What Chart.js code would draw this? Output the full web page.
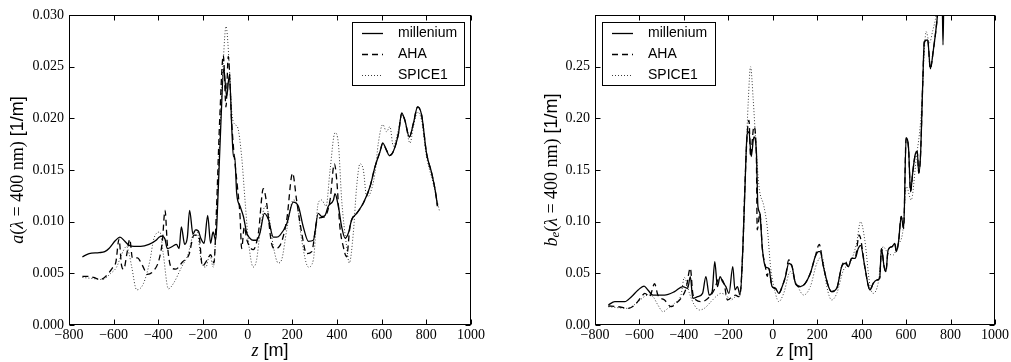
<!DOCTYPE html>
<html>
<head>
<meta charset="utf-8">
<script src="https://cdn.jsdelivr.net/npm/chart.js@4.4.1/dist/chart.umd.min.js"></script>
<style>
  html, body { margin: 0; padding: 0; background: #fff; }
  #wrap { position: relative; width: 1011px; height: 362px; }
  canvas { position: absolute; top: 0; }
</style>
</head>
<body>
<div id="wrap">
  <canvas id="absChart" width="505" height="362" style="left:0"></canvas>
  <canvas id="scatChart" width="506" height="362" style="left:505px"></canvas>
</div>
<script>
// ---- data ----
const seriesNames = ['millenium', 'AHA', 'SPICE1'];

// left panel: absorption a(400 nm)
const zMillA = [-740,-710,-665,-640,-621,-591,-572,-550,-530,-509,-479,-442,-410,-397,-382,-370,-360,-337,-319,-307,-297,-282,-270,-260,-245,-233,-221,-210,-195,-179,-166,-155,-143,-133,-120,-107,-94,-82,-70,-64,-58,-49,-34,-19,-4,10,25,40,55,75,93,115,130,145,175,204,227,249,272,294,316,331,346,361,384,391,406,421,436,451,466,488,518,548,570,593,605,622,634,652,675,690,704,724,742,761,779,801,824,840,850];
const aMill = [0.0066,0.0069,0.0070,0.0071,0.0074,0.0082,0.0085,0.0081,0.0077,0.0076,0.0076,0.0078,0.0082,0.0085,0.0086,0.0083,0.0074,0.0076,0.0078,0.0074,0.0095,0.0078,0.0085,0.0111,0.0088,0.0092,0.0091,0.0084,0.0079,0.0106,0.0079,0.0090,0.0082,0.0124,0.0195,0.0248,0.0221,0.0242,0.0185,0.0163,0.0163,0.0127,0.0115,0.0105,0.0089,0.0084,0.0082,0.0082,0.0089,0.0108,0.0102,0.0085,0.0085,0.0087,0.0098,0.0119,0.0115,0.0095,0.0081,0.0082,0.0108,0.0105,0.0106,0.0115,0.0121,0.0127,0.0115,0.0095,0.0084,0.0089,0.0102,0.0108,0.0118,0.0134,0.0153,0.0168,0.0176,0.0169,0.0164,0.0168,0.0185,0.0205,0.0198,0.0182,0.0195,0.0211,0.0203,0.0166,0.0147,0.0130,0.0115];

const zAhaA = [-740,-710,-690,-660,-636,-606,-590,-576,-565,-555,-540,-528,-516,-494,-472,-449,-419,-397,-382,-370,-360,-345,-322,-292,-263,-240,-218,-203,-181,-166,-151,-140,-125,-109,-97,-87,-72,-64,-46,-34,-27,-15,-3,25,48,70,85,107,122,145,175,201,219,242,264,287,309,330,346,369,388,399,413,428,443,458,473,488,518,548,570,593,605,622,634,652,675,690,704,724,742,761,779,801,824,840,850];
const aAha = [0.0047,0.0047,0.0046,0.0044,0.0047,0.0055,0.0061,0.0083,0.0058,0.0054,0.0070,0.0083,0.0065,0.0065,0.0058,0.0049,0.0053,0.0063,0.0081,0.0111,0.0079,0.0057,0.0054,0.0061,0.0068,0.0087,0.0086,0.0057,0.0063,0.0068,0.0060,0.0110,0.0200,0.0261,0.0211,0.0260,0.0198,0.0173,0.0134,0.0105,0.0074,0.0095,0.0082,0.0073,0.0089,0.0132,0.0118,0.0079,0.0074,0.0077,0.0102,0.0147,0.0121,0.0089,0.0069,0.0071,0.0100,0.0104,0.0105,0.0121,0.0156,0.0140,0.0095,0.0076,0.0066,0.0095,0.0105,0.0108,0.0118,0.0134,0.0153,0.0168,0.0176,0.0169,0.0164,0.0168,0.0185,0.0205,0.0198,0.0182,0.0195,0.0211,0.0203,0.0166,0.0147,0.0130,0.0115];

const zSpiceA = [-740,-695,-651,-613,-587,-565,-542,-530,-519,-497,-467,-437,-422,-407,-393,-378,-355,-333,-296,-266,-243,-228,-206,-187,-170,-154,-139,-124,-109,-97,-82,-72,-57,-46,-27,-12,3,25,40,55,78,93,115,137,152,175,204,220,242,272,294,316,331,351,369,391,406,421,443,455,473,488,503,518,533,548,570,585,605,622,637,652,675,690,704,727,742,761,779,801,831,858];
const aSpice = [0.0046,0.0045,0.0044,0.0050,0.0056,0.0068,0.0076,0.0068,0.0056,0.0034,0.0040,0.0063,0.0082,0.0089,0.0090,0.0069,0.0035,0.0040,0.0056,0.0069,0.0089,0.0092,0.0060,0.0056,0.0068,0.0056,0.0105,0.0186,0.0256,0.0289,0.0250,0.0208,0.0194,0.0192,0.0163,0.0121,0.0082,0.0056,0.0063,0.0089,0.0115,0.0108,0.0076,0.0060,0.0063,0.0092,0.0121,0.0117,0.0082,0.0056,0.0063,0.0118,0.0121,0.0115,0.0150,0.0186,0.0176,0.0121,0.0076,0.0060,0.0089,0.0134,0.0156,0.0150,0.0124,0.0127,0.0147,0.0176,0.0194,0.0187,0.0192,0.0173,0.0189,0.0203,0.0198,0.0176,0.0192,0.0206,0.0198,0.0163,0.0137,0.0111];

// right panel: scattering b_e(400 nm)
const zMillB = [-740,-711,-666,-636,-606,-579,-562,-539,-487,-442,-405,-383,-371,-360,-338,-316,-301,-286,-273,-261,-249,-237,-226,-211,-197,-180,-170,-159,-147,-135,-127,-115,-107,-97,-85,-74,-67,-58,-47,-33,-18,-3,12,27,42,57,72,87,102,124,146,169,191,206,213,228,251,265,288,310,325,340,355,370,385,395,414,429,437,452,467,481,489,501,509,519,537,549,556,566,578,589,600,611,620,630,641,650,657,665,675,682,697,709,722,739,749,762,766,770,780];
const bMill = [0.0194,0.0226,0.0226,0.0274,0.0339,0.0377,0.0339,0.0290,0.0290,0.0323,0.0371,0.0355,0.0468,0.0258,0.0274,0.0306,0.0468,0.0290,0.0320,0.0613,0.0371,0.0468,0.0419,0.0371,0.0306,0.0565,0.0339,0.0371,0.0290,0.0726,0.1210,0.1850,0.1870,0.1630,0.1820,0.1690,0.1150,0.1080,0.0742,0.0565,0.0548,0.0371,0.0355,0.0306,0.0371,0.0468,0.0597,0.0565,0.0403,0.0371,0.0403,0.0500,0.0661,0.0710,0.0710,0.0565,0.0371,0.0323,0.0355,0.0565,0.0597,0.0565,0.0645,0.0645,0.0742,0.0770,0.0565,0.0387,0.0339,0.0403,0.0435,0.0452,0.0740,0.0565,0.0516,0.0726,0.0758,0.0790,0.0710,0.0806,0.1050,0.0935,0.1810,0.1710,0.1290,0.1480,0.1650,0.1680,0.1470,0.1650,0.2350,0.2740,0.2760,0.2480,0.2650,0.2950,0.3200,0.3200,0.2710,0.3200,0.3400];

const zAhaB = [-740,-696,-651,-621,-591,-576,-554,-532,-517,-487,-457,-435,-413,-390,-371,-360,-345,-323,-301,-278,-264,-241,-219,-204,-182,-167,-156,-147,-135,-127,-115,-107,-100,-85,-74,-70,-58,-47,-33,-25,-18,-3,12,27,42,57,72,87,102,124,146,169,191,209,228,251,265,288,310,325,340,355,370,389,414,429,437,452,467,481,489,501,509,519,537,549,556,566,578,589,600,611,620,630,641,650,657,665,675,682,697,709,722,739,749];
const bAha = [0.0184,0.0177,0.0161,0.0194,0.0274,0.0306,0.0274,0.0400,0.0290,0.0242,0.0177,0.0210,0.0258,0.0355,0.0550,0.0306,0.0242,0.0226,0.0242,0.0290,0.0339,0.0450,0.0400,0.0242,0.0274,0.0290,0.0274,0.0300,0.0726,0.1250,0.1850,0.1980,0.1630,0.1920,0.1650,0.0920,0.1080,0.0742,0.0560,0.0470,0.0548,0.0371,0.0355,0.0306,0.0371,0.0468,0.0630,0.0565,0.0403,0.0371,0.0403,0.0500,0.0661,0.0780,0.0565,0.0371,0.0323,0.0355,0.0565,0.0620,0.0565,0.0645,0.0645,0.0870,0.0565,0.0387,0.0339,0.0403,0.0435,0.0452,0.0740,0.0565,0.0516,0.0726,0.0758,0.0790,0.0710,0.0806,0.1050,0.0935,0.1810,0.1710,0.1290,0.1480,0.1650,0.1680,0.1470,0.1650,0.2350,0.2740,0.2760,0.2480,0.2650,0.2950,0.3200];

const zSpiceB = [-740,-651,-606,-561,-539,-517,-494,-472,-442,-413,-398,-375,-353,-331,-308,-278,-256,-234,-211,-189,-167,-144,-133,-122,-110,-100,-88,-77,-62,-40,-25,-10,12,27,49,79,109,139,169,198,221,243,265,288,318,347,377,395,414,437,452,474,496,519,541,563,586,601,623,645,668,683,690,705,720,735,750];
const bSpice = [0.0177,0.0161,0.0226,0.0290,0.0274,0.0194,0.0129,0.0161,0.0210,0.0290,0.0460,0.0306,0.0194,0.0145,0.0161,0.0226,0.0274,0.0306,0.0290,0.0242,0.0274,0.0339,0.0800,0.1530,0.2180,0.2500,0.2180,0.1790,0.1340,0.1150,0.0950,0.0565,0.0306,0.0226,0.0306,0.0516,0.0387,0.0290,0.0371,0.0597,0.0661,0.0371,0.0242,0.0306,0.0532,0.0597,0.0790,0.1000,0.0823,0.0387,0.0306,0.0403,0.0758,0.0694,0.0677,0.0774,0.0919,0.1340,0.1210,0.1600,0.2050,0.2690,0.2840,0.2730,0.2850,0.3000,0.3300];

// ---- helpers ----
const SERIF = '"Liberation Serif", "DejaVu Serif", serif';
const SANS = '"Liberation Sans", Arial, sans-serif';

function pts(zs, vs) {
    return zs.map((z, i) => ({ x: z, y: vs[i] }));
}

function lineSet(label, data, style) {
    const base = {
        label: label,
        data: data,
        borderColor: '#000',
        borderWidth: 1.3,
        pointRadius: 0,
        fill: false,
        cubicInterpolationMode: 'monotone'
    };
    if (style === 'dash') base.borderDash = [6, 4];
    if (style === 'dot') { base.borderDash = [1, 2]; base.borderColor = '#3a3a3a'; base.borderWidth = 1; }
    return base;
}

function minusLabel(v) {
    return v < 0 ? '\u2212' + Math.abs(v) : String(v);
}

// draws a run of differently styled text pieces centred on (cx, cy)
function drawRich(ctx, segs, cx, cy, rotate) {
    ctx.save();
    ctx.translate(cx, cy);
    if (rotate) ctx.rotate(-Math.PI / 2);
    ctx.textBaseline = 'middle';
    ctx.textAlign = 'left';
    ctx.fillStyle = '#000';
    let total = 0;
    segs.forEach(s => { ctx.font = s.f; s.w = ctx.measureText(s.t).width; total += s.w; });
    let x = -total / 2;
    segs.forEach(s => {
        ctx.font = s.f;
        ctx.fillText(s.t, x, s.dy || 0);
        x += s.w;
    });
    ctx.restore();
}

// frame, inward ticks on all four sides, boxed legend, axis titles
const decor = {
    id: 'decor',
    afterDraw(chart, args, opts) {
        const { ctx, chartArea: a, scales: { x, y } } = chart;
        const L = Math.round(a.left) + 0.5, R = Math.round(a.right) - 0.5;
        const T = Math.round(a.top) + 0.5, B = Math.round(a.bottom) - 0.5;
        ctx.save();
        ctx.strokeStyle = '#000';
        ctx.lineWidth = 1;
        ctx.setLineDash([]);
        ctx.strokeRect(L, T, R - L, B - T);
        ctx.beginPath();
        x.ticks.forEach(t => {
            const px = Math.round(x.getPixelForValue(t.value)) + 0.5;
            ctx.moveTo(px, B); ctx.lineTo(px, B - 5);
            ctx.moveTo(px, T); ctx.lineTo(px, T + 5);
        });
        y.ticks.forEach(t => {
            const py = Math.round(y.getPixelForValue(t.value)) + 0.5;
            ctx.moveTo(L, py); ctx.lineTo(L + 5, py);
            ctx.moveTo(R, py); ctx.lineTo(R - 5, py);
        });
        ctx.stroke();

        // legend
        const lg = opts.legend;
        ctx.fillStyle = '#fff';
        ctx.fillRect(lg.x + 0.5, lg.y + 0.5, lg.w, lg.h);
        ctx.strokeRect(lg.x + 0.5, lg.y + 0.5, lg.w, lg.h);
        ctx.font = '14px ' + SANS;
        ctx.textBaseline = 'middle';
        chart.data.datasets.forEach((ds, i) => {
            const ry = lg.y + 11 + i * 21 + 0.5;
            ctx.strokeStyle = ds.borderColor;
            ctx.lineWidth = ds.borderWidth;
            ctx.setLineDash(ds.borderDash || []);
            ctx.beginPath();
            ctx.moveTo(lg.x + lg.lineX0, ry);
            ctx.lineTo(lg.x + lg.lineX1, ry);
            ctx.stroke();
            ctx.fillStyle = '#000';
            ctx.fillText(ds.label, lg.x + lg.textX, ry);
        });
        ctx.restore();

        const cx = (a.left + a.right) / 2;
        drawRich(ctx, [
            { t: 'z', f: 'italic 18px ' + SERIF },
            { t: ' [m]', f: '18px ' + SANS }
        ], cx, 351, false);
        drawRich(ctx, opts.yTitle, opts.yTitleX, (a.top + a.bottom) / 2, true);
    }
};

function makeOptions(cfg) {
    return {
        responsive: false,
        animation: false,
        layout: { padding: { top: 15, right: cfg.padRight, left: 0, bottom: 0 } },
        plugins: {
            legend: { display: false },
            tooltip: { enabled: false },
            decor: { legend: cfg.legend, yTitle: cfg.yTitle, yTitleX: cfg.yTitleX }
        },
        scales: {
            x: {
                type: 'linear',
                min: -800,
                max: 1000,
                grid: { display: false, drawTicks: false },
                border: { display: false },
                ticks: {
                    stepSize: 200,
                    autoSkip: false,
                    maxRotation: 0,
                    padding: 2,
                    color: '#000',
                    font: { family: SERIF, size: 14 },
                    callback: minusLabel
                },
                afterFit(scale) { scale.height = 37; }
            },
            y: {
                min: 0,
                max: cfg.yMax,
                grid: { display: false, drawTicks: false },
                border: { display: false },
                ticks: {
                    stepSize: cfg.yStep,
                    padding: 5,
                    color: '#000',
                    font: { family: SERIF, size: 14 },
                    callback(v) {
                        if (cfg.hideTop && v > cfg.yMax - 1e-9) return '';
                        return v.toFixed(cfg.dec);
                    }
                },
                afterFit(scale) { scale.width = cfg.axisWidth; }
            }
        }
    };
}

new Chart(document.getElementById('absChart'), {
    type: 'line',
    data: {
        datasets: [
            lineSet(seriesNames[0], pts(zMillA, aMill), 'solid'),
            lineSet(seriesNames[1], pts(zAhaA, aAha), 'dash'),
            lineSet(seriesNames[2], pts(zSpiceA, aSpice), 'dot')
        ]
    },
    options: makeOptions({
        yMax: 0.03, yStep: 0.005, dec: 3, hideTop: false,
        axisWidth: 69, padRight: 34,
        legend: { x: 352, y: 22, w: 112, h: 63, lineX0: 10, lineX1: 31, textX: 46 },
        yTitleX: 18,
        yTitle: [
            { t: 'a', f: 'italic 18px ' + SERIF },
            { t: '(', f: '18px ' + SERIF },
            { t: '\u03bb', f: 'italic 18px ' + SERIF },
            { t: ' = 400 nm)', f: '18px ' + SERIF },
            { t: ' [1/m]', f: '18px ' + SANS }
        ]
    }),
    plugins: [decor]
});

new Chart(document.getElementById('scatChart'), {
    type: 'line',
    data: {
        datasets: [
            lineSet(seriesNames[0], pts(zMillB, bMill), 'solid'),
            lineSet(seriesNames[1], pts(zAhaB, bAha), 'dash'),
            lineSet(seriesNames[2], pts(zSpiceB, bSpice), 'dot')
        ]
    },
    options: makeOptions({
        yMax: 0.3, yStep: 0.05, dec: 2, hideTop: true,
        axisWidth: 90, padRight: 13,
        legend: { x: 97, y: 22, w: 113, h: 63, lineX0: 10, lineX1: 31, textX: 46 },
        yTitleX: 47,
        yTitle: [
            { t: 'b', f: 'italic 18px ' + SERIF },
            { t: 'e', f: 'italic 13px ' + SERIF, dy: 4 },
            { t: '(', f: '18px ' + SERIF },
            { t: '\u03bb', f: 'italic 18px ' + SERIF },
            { t: ' = 400 nm)', f: '18px ' + SERIF },
            { t: ' [1/m]', f: '18px ' + SANS }
        ]
    }),
    plugins: [decor]
});
</script>
</body>
</html>
